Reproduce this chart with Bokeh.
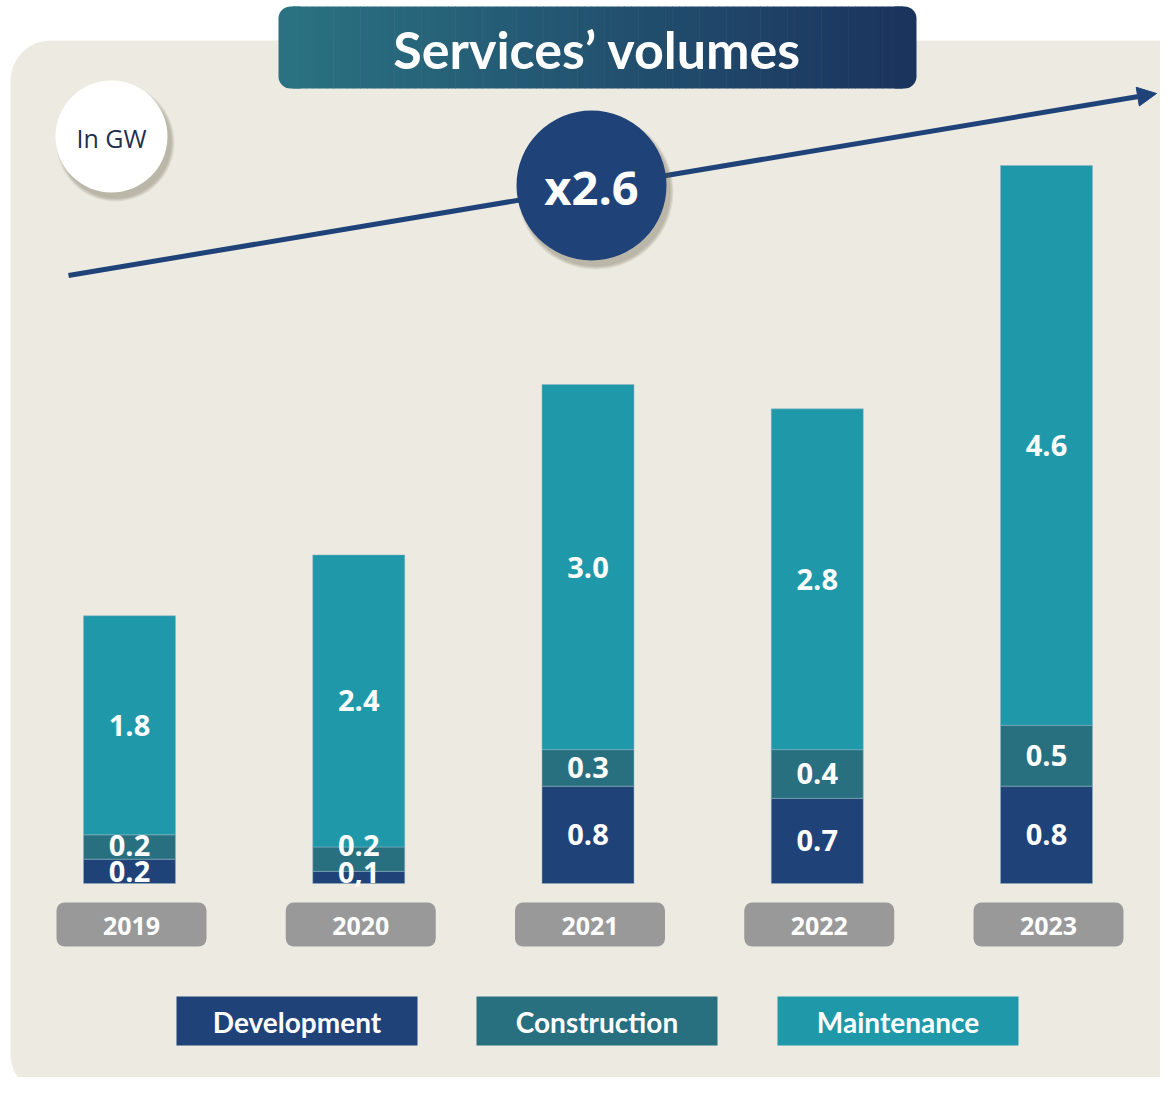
from bokeh.plotting import figure
from bokeh.models import Range1d, BoxAnnotation, Arrow, NormalHead, ColumnDataSource
from bokeh.embed import file_html
from bokeh.resources import INLINE
from bokeh.core.properties import value

# ---------------- data ----------------
years = ["2019", "2020", "2021", "2022", "2023"]
development = [0.2, 0.1, 0.8, 0.7, 0.8]
construction = [0.2, 0.2, 0.3, 0.4, 0.5]
maintenance = [1.8, 2.4, 3.0, 2.8, 4.6]
dev_labels = ["0.2", "0,1", "0.8", "0.7", "0.8"]
con_labels = ["0.2", "0.2", "0.3", "0.4", "0.5"]
mnt_labels = ["1.8", "2.4", "3.0", "2.8", "4.6"]
series = ["Development", "Construction", "Maintenance"]
title_text = "Services\u2019 volumes"
unit_text = "In GW"
growth_text = "x2.6"

# ---------------- style ----------------
C_DEV = "#1F4279"
C_CON = "#287080"
C_MNT = "#1F99AA"
C_PANEL = "#EDEBE1"
C_TAG = "#999999"
C_GRAD_L = (42, 113, 129)
C_GRAD_R = (27, 52, 94)

W, H = 1160, 1077
PX_PER_BAR = 229.25
X0 = 129.0      # pixel centre of first bar
PX_PER_GW = 121.7
Y0 = 883.0      # pixel of zero baseline


def X(ix):
    return (ix - X0) / PX_PER_BAR


def Y(iy):
    return (Y0 - iy) / PX_PER_GW


p = figure(width=W, height=H,
           x_range=Range1d(X(0), X(W)), y_range=Range1d(Y(H), Y(0)),
           output_backend="svg", toolbar_location=None,
           x_axis_location=None, y_axis_location=None,
           min_border=0, background_fill_color="white", border_fill_color="white",
           outline_line_color=None)
p.xgrid.visible = False
p.ygrid.visible = False

# background panel
p.add_layout(BoxAnnotation(left=X(10), right=X(1215), top=Y(40), bottom=Y(1094),
                           border_radius=40, fill_color=C_PANEL, fill_alpha=1,
                           line_color=None, level="image"))

# title box with gradient
p.add_layout(BoxAnnotation(left=X(278), right=X(310), top=Y(6), bottom=Y(88),
                           border_radius=12, fill_color="#%02x%02x%02x" % C_GRAD_L, fill_alpha=1,
                           line_color=None, level="underlay"))
p.add_layout(BoxAnnotation(left=X(884), right=X(916), top=Y(6), bottom=Y(88),
                           border_radius=12, fill_color="#%02x%02x%02x" % C_GRAD_R, fill_alpha=1,
                           line_color=None, level="underlay"))
N = 90
gl, gr, gc = [], [], []
a0, a1 = 292.0, 902.0
for i in range(N):
    t = i / (N - 1)
    c = tuple(int(round(C_GRAD_L[k] + (C_GRAD_R[k] - C_GRAD_L[k]) * t)) for k in range(3))
    gl.append(X(a0 + (a1 - a0) * i / N))
    gr.append(X(a0 + (a1 - a0) * (i + 1) / N + 0.6))
    gc.append("#%02x%02x%02x" % c)
p.quad(left=gl, right=gr, top=Y(6), bottom=Y(88), fill_color=gc, line_color=None)
p.text([X(597)], [Y(48)], text=[title_text], text_align="center",
       text_baseline="middle", text_font=value("Lato"), text_font_style="bold",
       text_font_size="52px", text_color="white")

# growth arrow
p.add_layout(Arrow(end=NormalHead(size=19, fill_color=C_DEV, line_color=C_DEV),
                   x_start=X(68), y_start=Y(275), x_end=X(1156), y_end=Y(93),
                   line_width=5, line_color=C_DEV, level="underlay"))

# shadows + circles
def shadow(cx, cy, d):
    for k, a in enumerate([0.10, 0.10, 0.10, 0.10]):
        p.scatter([X(cx + 4)], [Y(cy + 6)], size=d + 2 * k, fill_color="#5f5844",
                  fill_alpha=a, line_color=None)

shadow(111, 136, 112)
p.scatter([X(111)], [Y(136)], size=112, fill_color="white", line_color=None)
p.text([X(111)], [Y(137)], text=[unit_text], text_align="center", text_baseline="middle",
       text_font=value("Open Sans"), text_font_size="25px", text_color="#1E2F4F")

shadow(591, 185, 150)
p.scatter([X(591)], [Y(185)], size=150, fill_color=C_DEV, line_color=None)
p.text([X(591)], [Y(186)], text=[growth_text], text_align="center", text_baseline="middle",
       text_font=value("Open Sans"), text_font_style="bold", text_font_size="47px",
       text_color="white")

# stacked bars
xs = list(range(len(years)))
src = ColumnDataSource(dict(x=xs, Development=development, Construction=construction,
                            Maintenance=maintenance))
p.vbar_stack(series, x="x", width=92 / PX_PER_BAR, color=[C_DEV, C_CON, C_MNT],
             line_color="#8FB3C2", line_alpha=0.5, line_width=1, source=src)

# value labels
lab_x, lab_y, lab_t = [], [], []
for i in xs:
    d, c, m = development[i], construction[i], maintenance[i]
    lab_x += [i, i, i]
    lab_y += [max(d / 2, 0.09), max(d + c / 2, 0.31), d + c + m / 2]
    lab_t += [dev_labels[i], con_labels[i], mnt_labels[i]]
p.text(x=lab_x, y=lab_y, text=lab_t, text_align="center", text_baseline="middle",
       text_font=value("Open Sans"), text_font_style="bold", text_font_size="29px",
       text_color="white")

# year tags
tag_w = 150 / PX_PER_BAR
for i, yr in enumerate(years):
    cx = i + 2.0 / PX_PER_BAR
    p.add_layout(BoxAnnotation(left=cx - tag_w / 2, right=cx + tag_w / 2, top=Y(902),
                               bottom=Y(946), border_radius=8, fill_color=C_TAG,
                               fill_alpha=1, line_color=None, level="underlay"))
p.text(x=[i + 2.0 / PX_PER_BAR for i in xs], y=[Y(925)] * len(xs), text=years,
       text_align="center", text_baseline="middle", text_font=value("Open Sans"),
       text_font_style="bold", text_font_size="25px", text_color="white")

# legend boxes
leg_cx = [296.5, 596.5, 897.5]
leg_w = 241
p.quad(left=[X(c - leg_w / 2) for c in leg_cx], right=[X(c + leg_w / 2) for c in leg_cx],
       top=Y(996), bottom=Y(1045), fill_color=[C_DEV, C_CON, C_MNT], line_color=None)
p.text(x=[X(c) for c in leg_cx], y=[Y(1021)] * 3, text=series, text_align="center",
       text_baseline="middle", text_font=value("Lato"), text_font_style="bold",
       text_font_size="28px", text_color="white")

open("out.html", "w").write(file_html(p, INLINE))
